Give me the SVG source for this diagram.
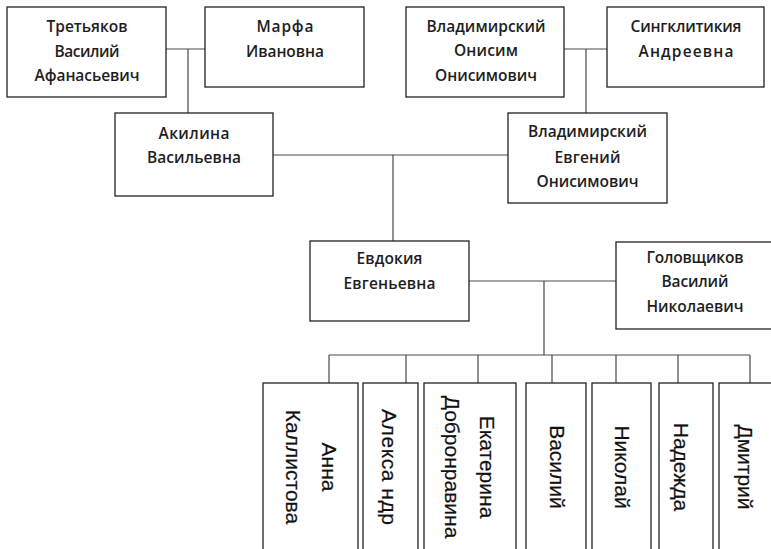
<svg xmlns="http://www.w3.org/2000/svg" width="771" height="549" viewBox="0 0 771 549">
<style>
  .box { fill: #ffffff; stroke: #222222; stroke-width: 1.3; }
  .con { fill: none; stroke: #4a4a4a; stroke-width: 1.2; }
  .t { font-family: "Open Sans", "Liberation Sans", sans-serif; font-weight: 600; font-size: 15.5px; fill: #1e1e1e; text-anchor: middle; }
  .v { font-family: "Liberation Sans", Arial, sans-serif; font-size: 21px; fill: #111111; text-anchor: middle; stroke: #111111; stroke-width: 0.2; }
</style>
<rect width="771" height="549" fill="#ffffff"/>
<g id="connectors">
  <path class="con" d="M166,49 H205 M188,49 V113"/>
  <path class="con" d="M564,49 H607 M586,49 V113"/>
  <path class="con" d="M273,155 H508 M393,155 V241"/>
  <path class="con" d="M469,281 H616 M544,281 V355"/>
  <path class="con" d="M329,355 H750"/>
  <path class="con" d="M329,355 V383 M406,355 V383 M478,355 V383 M552,355 V383 M616,355 V383 M678,355 V383 M750,355 V383"/>
</g>
<g id="tretyakov">
  <rect class="box" x="7" y="7" width="159" height="90"/>
  <text class="t" x="87" y="32" textLength="81" lengthAdjust="spacing">Третьяков</text>
  <text class="t" x="87" y="57" textLength="65" lengthAdjust="spacing">Василий</text>
  <text class="t" x="87" y="81" textLength="105" lengthAdjust="spacing">Афанасьевич</text>
</g>
<g id="marfa">
  <rect class="box" x="205" y="7" width="159" height="80"/>
  <text class="t" x="285" y="32" textLength="57" lengthAdjust="spacing">Марфа</text>
  <text class="t" x="285" y="57" textLength="78" lengthAdjust="spacing">Ивановна</text>
</g>
<g id="vladimirsky-onisim">
  <rect class="box" x="406" y="7" width="158" height="90"/>
  <text class="t" x="486" y="32" textLength="119" lengthAdjust="spacing">Владимирский</text>
  <text class="t" x="486" y="56" textLength="64" lengthAdjust="spacing">Онисим</text>
  <text class="t" x="486" y="81" textLength="102" lengthAdjust="spacing">Онисимович</text>
</g>
<g id="singklitikia">
  <rect class="box" x="607" y="7" width="157" height="80"/>
  <text class="t" x="686" y="32" textLength="111" lengthAdjust="spacing">Сингклитикия</text>
  <text class="t" x="686" y="57" textLength="95" lengthAdjust="spacing">Андреевна</text>
</g>
<g id="akilina">
  <rect class="box" x="115" y="113" width="158" height="83"/>
  <text class="t" x="194" y="139" textLength="71" lengthAdjust="spacing">Акилина</text>
  <text class="t" x="194" y="163" textLength="94" lengthAdjust="spacing">Васильевна</text>
</g>
<g id="vladimirsky-evgeny">
  <rect class="box" x="508" y="113" width="159" height="90"/>
  <text class="t" x="587.5" y="137" textLength="119" lengthAdjust="spacing">Владимирский</text>
  <text class="t" x="587.5" y="163" textLength="66" lengthAdjust="spacing">Евгений</text>
  <text class="t" x="587.5" y="187" textLength="102" lengthAdjust="spacing">Онисимович</text>
</g>
<g id="evdokia">
  <rect class="box" x="310" y="241" width="159" height="80"/>
  <text class="t" x="389.5" y="264" textLength="66" lengthAdjust="spacing">Евдокия</text>
  <text class="t" x="389.5" y="289" textLength="92" lengthAdjust="spacing">Евгеньевна</text>
</g>
<g id="golovshchikov">
  <rect class="box" x="616" y="242" width="170" height="87"/>
  <text class="t" x="695" y="263" textLength="97" lengthAdjust="spacing">Головщиков</text>
  <text class="t" x="695" y="287" textLength="67" lengthAdjust="spacing">Василий</text>
  <text class="t" x="695" y="312" textLength="97" lengthAdjust="spacing">Николаевич</text>
</g>
<g id="anna">
  <rect class="box" x="263" y="383" width="95" height="180"/>
  <g transform="translate(322,467) rotate(90)">
    <text class="v" x="0" y="0">Анна</text>
    <text class="v" x="0" y="36">Каллистова</text>
  </g>
</g>
<g id="aleksandr">
  <rect class="box" x="363" y="383" width="55" height="180"/>
  <g transform="translate(382,467) rotate(90)">
    <text class="v" x="0" y="0" textLength="116" lengthAdjust="spacing">Алекса ндр</text>
  </g>
</g>
<g id="ekaterina">
  <rect class="box" x="424" y="383" width="92" height="180"/>
  <g transform="translate(480,467) rotate(90)">
    <text class="v" x="0" y="0">Екатерина</text>
    <text class="v" x="0" y="35">Добронравина</text>
  </g>
</g>
<g id="vasily">
  <rect class="box" x="526" y="383" width="60" height="180"/>
  <g transform="translate(550,467) rotate(90)">
    <text class="v" x="0" y="0">Василий</text>
  </g>
</g>
<g id="nikolay">
  <rect class="box" x="592" y="383" width="59" height="180"/>
  <g transform="translate(615,467) rotate(90)">
    <text class="v" x="0" y="0">Николай</text>
  </g>
</g>
<g id="nadezhda">
  <rect class="box" x="659" y="383" width="54" height="180"/>
  <g transform="translate(674,467) rotate(90)">
    <text class="v" x="0" y="0">Надежда</text>
  </g>
</g>
<g id="dmitry">
  <rect class="box" x="719" y="383" width="70" height="180"/>
  <g transform="translate(738,467) rotate(90)">
    <text class="v" x="0" y="0">Дмитрий</text>
  </g>
</g>
</svg>
